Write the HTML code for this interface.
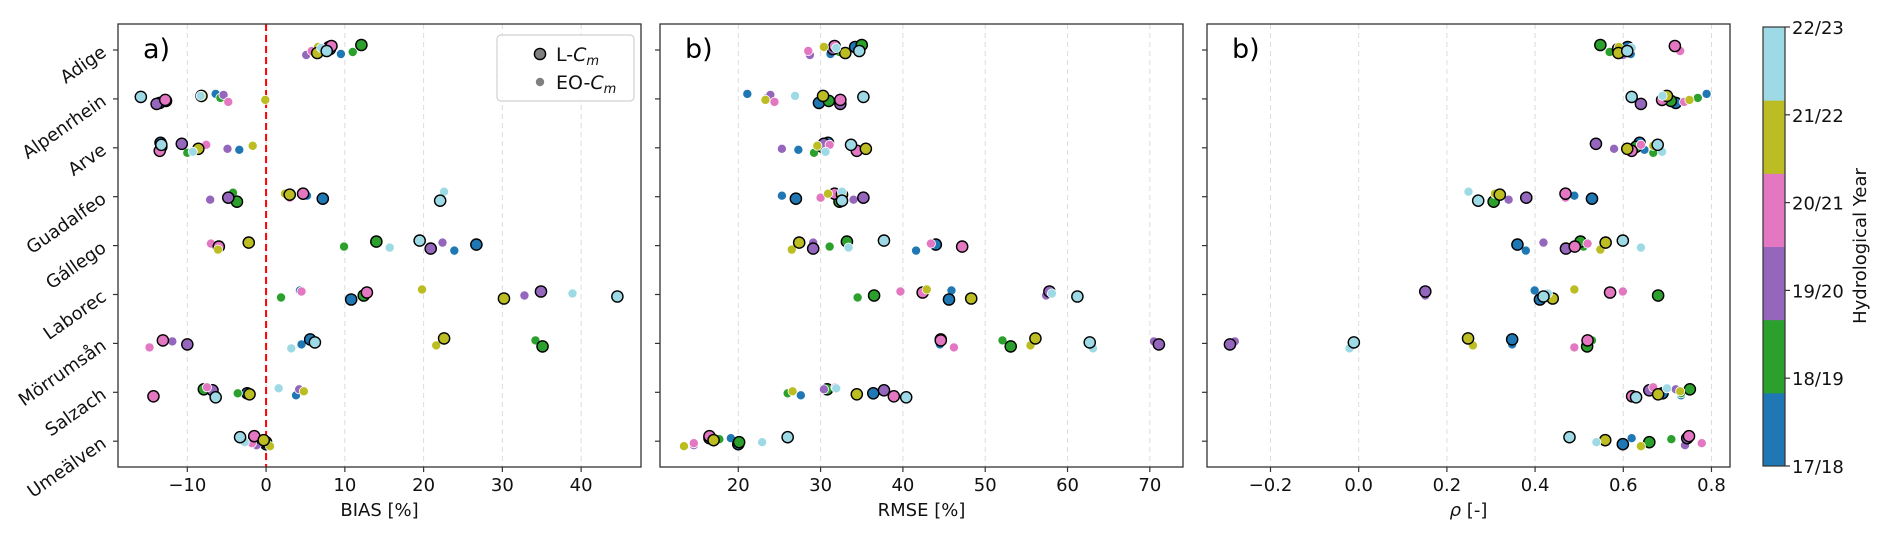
<!DOCTYPE html>
<html><head><meta charset="utf-8"><style>
html,body{margin:0;padding:0;background:#fff;}
svg{display:block;font-family:"DejaVu Sans","Liberation Sans",sans-serif;}
</style></head><body>
<svg id="fig" width="1890" height="535" viewBox="0 0 1890 535" xmlns="http://www.w3.org/2000/svg"></svg>
<script>
const rivers=["Adige","Alpenrhein","Arve","Guadalfeo","Gállego","Laborec","Mörrumsån","Salzach","Umeälven"];
const years=["17/18","18/19","19/20","20/21","21/22","22/23"];
const yearColors=["#1f77b4","#2ca02c","#9467bd","#e377c2","#bcbd22","#9edae5"];
// BIAS [%] per river, per year
const biasL=[[8.0,12.1,8.1,8.3,6.5,7.7],[-13.5,-12.7,-13.9,-12.8,-8.2,-15.9],[-13.4,-13.3,-10.7,-13.5,-8.6,-13.3],[7.2,-3.7,-4.8,4.7,3.0,22.1],[26.7,14.0,20.9,-6.0,-2.2,19.5],[10.8,12.4,34.9,12.8,30.2,44.6],[5.6,35.1,-10.0,-13.1,22.6,6.2],[-2.4,-7.9,-6.8,-14.3,-2.1,-6.4],[0.0,0.0,-1.5,-1.5,-0.3,-3.3]];
const biasEO=[[9.5,11.0,5.1,5.8,6.6,7.0],[-6.4,-5.8,-5.4,-4.8,-0.1,-8.3],[-3.4,-10.0,-4.9,-7.6,-1.7,-9.3],[5.2,-4.2,-7.1,3.0,2.4,22.6],[23.9,9.9,22.4,-7.0,-6.1,15.7],[4.3,1.9,32.8,4.5,19.8,38.9],[4.5,34.2,-11.9,-14.8,21.6,3.2],[3.8,-3.6,4.2,-7.5,4.8,1.6],[-1.6,-0.2,-1.2,-1.8,0.5,-2.7]];
// RMSE [%]
const rmseL=[[34.2,35.0,31.5,31.7,33.0,34.7],[29.8,31.0,32.4,32.4,30.3,35.2],[30.9,30.2,30.4,34.4,35.5,33.7],[27.0,32.3,35.2,31.7,32.6,32.6],[44.0,33.2,29.1,47.2,27.4,37.7],[45.6,36.5,57.8,42.4,48.3,61.2],[44.6,53.1,71.1,44.6,56.1,62.7],[36.4,30.8,37.7,38.9,34.4,40.4],[20.0,20.1,16.5,16.5,17.0,26.0]];
const rmseEO=[[31.2,32.3,28.7,28.5,30.4,31.9],[21.1,23.5,23.9,24.4,23.3,26.9],[27.3,29.2,25.3,31.1,29.6,30.6],[25.3,32.0,34.0,30.0,30.9,32.6],[41.6,31.1,29.1,43.4,26.5,33.4],[45.9,34.5,57.4,39.7,42.9,58.1],[44.5,52.1,70.5,46.2,55.5,63.1],[27.6,26.0,30.4,31.8,26.6,31.9],[19.1,17.7,14.6,14.6,13.4,22.9]];
// rho [-]
const rhoL=[[0.61,0.548,0.588,0.717,0.589,0.609],[0.719,0.708,0.640,0.688,0.699,0.619],[0.637,0.629,0.538,0.619,0.609,0.678],[0.529,0.306,0.380,0.469,0.320,0.271],[0.360,0.503,0.470,0.490,0.560,0.599],[0.411,0.679,0.151,0.570,0.440,0.419],[0.348,0.518,-0.292,0.519,0.248,-0.011],[0.689,0.751,0.659,0.620,0.679,0.629],[0.599,0.659,0.745,0.749,0.559,0.478]];
const rhoEO=[[0.617,0.569,0.599,0.729,0.59,0.619],[0.789,0.769,0.700,0.738,0.750,0.689],[0.648,0.668,0.579,0.640,0.668,0.688],[0.489,0.319,0.340,0.469,0.309,0.249],[0.379,0.51,0.419,0.519,0.548,0.640],[0.399,0.679,0.151,0.599,0.489,0.429],[0.348,0.529,-0.281,0.489,0.259,-0.021],[0.731,0.731,0.719,0.668,0.729,0.699],[0.619,0.709,0.74,0.778,0.640,0.539]];
const ticksA=[-10,0,10,20,30,40];
const ticksB=[20,30,40,50,60,70];
const ticksC=[-0.2,0.0,0.2,0.4,0.6,0.8];
const tickLabC=["\u22120.2","0.0","0.2","0.4","0.6","0.8"];

const NS="http://www.w3.org/2000/svg";
const svg=document.getElementById("fig");
function mk(tag,attrs,parent){const e=document.createElementNS(NS,tag);for(const k in attrs)e.setAttribute(k,attrs[k]);(parent||svg).appendChild(e);return e;}
const TOP=24,BOT=467;
function yRow(i){return 50+i*48.9;}
const jit=[-3,4,-5,2,-1,5,-4,1,3,-3,1,-2];

const panels=[
 {name:"bias",x0:118,x1:641,v0:-18.8,v1:47.6,ticks:ticksA,labels:ticksA.map(t=>t<0?"\u2212"+(-t):String(t)),L:biasL,EO:biasEO,title:"BIAS [%]",tag:"a)",zero:true},
 {name:"rmse",x0:660,x1:1183,v0:10.49,v1:74.03,ticks:ticksB,labels:ticksB.map(String),L:rmseL,EO:rmseEO,title:"RMSE [%]",tag:"b)"},
 {name:"rho",x0:1207,x1:1730,v0:-0.344,v1:0.842,ticks:ticksC,labels:tickLabC,L:rhoL,EO:rhoEO,title:"\u03c1 [-]",tag:"b)",ital:true}
];
panels.forEach((p,pi)=>{
 const g=mk("g",{});
 
 
 const sx=v=>p.x0+(v-p.v0)/(p.v1-p.v0)*(p.x1-p.x0);
 p.ticks.forEach((t,i)=>{
  const x=sx(t);
  const gl=mk("line",{x1:x,x2:x,y1:TOP,y2:BOT,stroke:"#dcdcdc","stroke-width":1,"stroke-dasharray":"5,4"},g);
  
  
  mk("line",{x1:x,x2:x,y1:BOT,y2:BOT+5,stroke:"#333","stroke-width":1.2},g);
  const tl=mk("text",{x:x,y:491,"text-anchor":"middle","font-size":18,fill:"#111"},g);
  tl.textContent=p.labels[i];
  
  
 });
 rivers.forEach((r,i)=>{
  mk("line",{x1:p.x0-5,x2:p.x0,y1:yRow(i),y2:yRow(i),stroke:"#333","stroke-width":1.2},g);
 });
 if(p.zero){
  const z=mk("line",{x1:sx(0),x2:sx(0),y1:TOP,y2:BOT,stroke:"#ff0000","stroke-width":2,"stroke-dasharray":"7,4"},g);
  
  
 }
 rivers.forEach((r,i)=>{
  years.forEach((yr,k)=>{
   const e=mk("circle",{cx:sx(p.EO[i][k]),cy:yRow(i)+jit[(k*2+1+i)%12],r:4.6,fill:yearColors[k],stroke:"#fff","stroke-width":0.8},g);
   
   
   const l=mk("circle",{cx:sx(p.L[i][k]),cy:yRow(i)+jit[(k*2+i)%12],r:5.6,fill:yearColors[k],stroke:"#000","stroke-width":1.4},g);
   
   
  });
 });
 const fr=mk("rect",{x:p.x0,y:TOP,width:p.x1-p.x0,height:BOT-TOP,fill:"none",stroke:"#333","stroke-width":1.3},g);
 
 
 const tg=mk("text",{x:p.x0+25,y:58,"font-size":27,fill:"#000"},g);
 tg.textContent=p.tag;
 
 
 const xt=mk("text",{x:(p.x0+p.x1)/2,y:516,"text-anchor":"middle","font-size":18,fill:"#111"},g);
 if(p.ital){const s=mk("tspan",{"font-style":"italic"},xt);s.textContent="\u03c1";const s2=mk("tspan",{},xt);s2.textContent=" [-]";}
 else xt.textContent=p.title;
 
 
});
rivers.forEach((r,i)=>{
 const y=yRow(i);
 const t=mk("text",{x:104,y:y+6,"text-anchor":"end","font-size":18,fill:"#111",transform:`rotate(-35 104 ${y})`});
 t.textContent=r;
 
 
});
const lg=mk("g",{});


mk("rect",{x:497,y:35,width:137,height:66,rx:4,fill:"#fff","fill-opacity":0.85,stroke:"#d0d0d0","stroke-width":1.2},lg);
mk("circle",{cx:540,cy:54,r:5.6,fill:"#808080",stroke:"#000","stroke-width":1.4},lg);
mk("circle",{cx:540,cy:82,r:4.6,fill:"#808080",stroke:"#fff","stroke-width":0.8},lg);
const l1=mk("text",{x:556,y:61,"font-size":19,fill:"#111"},lg);
l1.innerHTML='L-<tspan font-style="italic">C</tspan><tspan font-style="italic" font-size="13" dy="4">m</tspan>';
const l2=mk("text",{x:556,y:89,"font-size":19,fill:"#111"},lg);
l2.innerHTML='EO-<tspan font-style="italic">C</tspan><tspan font-style="italic" font-size="13" dy="4">m</tspan>';
const cb=mk("g",{});


const cbT=27,cbB=466,cbX=1763,cbW=22;
const seg=(cbB-cbT)/years.length;
years.forEach((yr,k)=>{
 mk("rect",{x:cbX,y:cbB-(k+1)*seg,width:cbW,height:seg+0.5,fill:yearColors[k]},cb);
 const ty=cbB-k*(cbB-cbT)/(years.length-1);
 mk("line",{x1:cbX+cbW,x2:cbX+cbW+5,y1:ty,y2:ty,stroke:"#333","stroke-width":1.2},cb);
 const t=mk("text",{x:cbX+cbW+7,y:ty+7,"font-size":18,fill:"#111"},cb);
 t.textContent=yr;
 
 
});
mk("rect",{x:cbX,y:cbT,width:cbW,height:cbB-cbT,fill:"none",stroke:"#333","stroke-width":1.2},cb);
const ct=mk("text",{x:1866,y:246,"text-anchor":"middle","font-size":18,fill:"#111",transform:"rotate(-90 1866 246)"},cb);
ct.textContent="Hydrological Year";


</script>
</body></html>
